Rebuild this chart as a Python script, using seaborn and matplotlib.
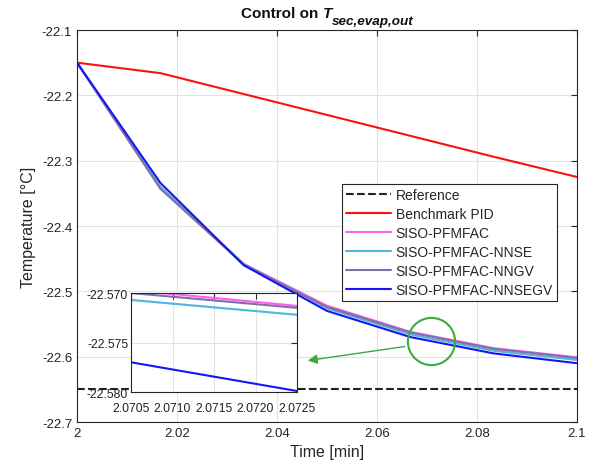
import pandas as pd
import matplotlib
matplotlib.use("Agg")
import matplotlib.pyplot as plt
import seaborn as sns
from matplotlib.ticker import FuncFormatter

sns.set_theme(style="whitegrid")
plt.rcParams['font.family'] = ['Liberation Sans', 'DejaVu Sans']
plt.rcParams['axes.unicode_minus'] = False

# data
time = [2.0, 2.01667, 2.03333, 2.05, 2.06667, 2.08333, 2.1]
reference = [-22.65] * len(time)
series_names = ['Benchmark PID', 'SISO-PFMFAC', 'SISO-PFMFAC-NNSE',
                'SISO-PFMFAC-NNGV', 'SISO-PFMFAC-NNSEGV']
pid = [-22.150, -22.166, -22.198, -22.230, -22.262, -22.294, -22.325]
pfmfac = [-22.150, -22.341, -22.458, -22.522, -22.562, -22.587, -22.601]
nnse = [-22.150, -22.340, -22.458, -22.526, -22.566, -22.591, -22.605]
nngv = [-22.150, -22.343, -22.459, -22.524, -22.563, -22.588, -22.602]
nnsegv = [-22.150, -22.334, -22.460, -22.530, -22.570, -22.595, -22.610]

# zoomed-in window
inset_time = [2.0705, 2.0725]
inset_pfmfac = [-22.5697, -22.5713]
inset_nnse = [-22.5707, -22.5722]
inset_nngv = [-22.5700, -22.5715]
inset_nnsegv = [-22.5770, -22.5799]

colors = {'Benchmark PID': '#FF1010', 'SISO-PFMFAC': '#FF5CF0',
          'SISO-PFMFAC-NNSE': '#4DB8DA', 'SISO-PFMFAC-NNGV': '#8070A8',
          'SISO-PFMFAC-NNSEGV': '#1515F5'}
main_vals = [pid, pfmfac, nnse, nngv, nnsegv]
inset_vals = [None, inset_pfmfac, inset_nnse, inset_nngv, inset_nnsegv]

edge = '#262626'
grid_c = '#E3E3E3'
green = '#3DAA3D'

W, H = 598, 477
fig = plt.figure(figsize=(W / 100, H / 100), dpi=100)
ax = fig.add_axes([0.1288, 0.1132, 0.8361, 0.8218])

sns.lineplot(x=time, y=reference, ax=ax, color='#222222', linestyle='--',
             linewidth=1.5, label='Reference')
for name, vals in zip(series_names, main_vals):
    sns.lineplot(x=time, y=vals, ax=ax, color=colors[name], linewidth=1.5,
                 label=name)

ax.set_xlim(2.0, 2.1)
ax.set_ylim(-22.7, -22.1)
ax.set_xticks([2.0, 2.02, 2.04, 2.06, 2.08, 2.1])
ax.set_yticks([-22.7, -22.6, -22.5, -22.4, -22.3, -22.2, -22.1])
ax.xaxis.set_major_formatter(FuncFormatter(lambda v, p: '%g' % round(v, 4)))
ax.yaxis.set_major_formatter(FuncFormatter(lambda v, p: '%.1f' % v))
ax.set_xlabel('Time [min]', fontsize=11.5, labelpad=4)
ax.set_ylabel('Temperature [°C]', fontsize=11.5, labelpad=4)

ax.set_facecolor('white')
ax.grid(True, color=grid_c, linewidth=0.8)
for s in ax.spines.values():
    s.set_color(edge)
    s.set_linewidth(0.8)
ax.tick_params(direction='in', length=4, width=0.8, colors=edge,
               labelsize=9.5, top=True, right=True, labelcolor='#222222')

# green highlight circle + arrow
ax.plot([2.0708], [-22.576], 'o', ms=34, mfc='none', mec=green, mew=1.5,
        zorder=5)
ax.annotate('', xy=(2.0456, -22.6066), xytext=(2.0661, -22.5838),
            arrowprops=dict(arrowstyle='-|>', color=green, lw=1,
                            mutation_scale=14), zorder=5)

leg = ax.legend(loc='upper right', bbox_to_anchor=(0.96, 0.607),
                borderaxespad=0, fontsize=10, frameon=True, fancybox=False,
                framealpha=1, edgecolor=edge, handlelength=3.2,
                handletextpad=0.35, labelspacing=0.35, borderpad=0.3)
leg.get_frame().set_linewidth(0.8)

# title: "Control on T_sec,evap,out" with a large MATLAB-style subscript
t1 = fig.text(0, 1 - 18 / H, 'Control on', fontsize=11, fontweight='bold',
              va='baseline', color='#111111')
t2 = fig.text(0, 1 - 18 / H, 'T', fontsize=11, fontweight='bold',
              fontstyle='italic', va='baseline', color='#111111')
t3 = fig.text(0, 1 - 25 / H, 'sec,evap,out', fontsize=9.7, fontweight='bold',
              fontstyle='italic', va='baseline', color='#111111')
r = fig.canvas.get_renderer()
w1 = t1.get_window_extent(r).width
w2 = t2.get_window_extent(r).width
w3 = t3.get_window_extent(r).width
gap1, gap2 = 5, -1
total = w1 + gap1 + w2 + gap2 + w3
x0 = 327 - total / 2
t1.set_x(x0 / W)
t2.set_x((x0 + w1 + gap1) / W)
t3.set_x((x0 + w1 + gap1 + w2 + gap2) / W)

# inset axes
axin = fig.add_axes([0.2191, 0.1761, 0.2776, 0.2075])
for name, vals in zip(series_names, inset_vals):
    if vals is None:
        continue
    sns.lineplot(x=inset_time, y=vals, ax=axin, color=colors[name],
                 linewidth=1.5, legend=False)
axin.set_xlim(2.0705, 2.0725)
axin.set_ylim(-22.580, -22.570)
axin.set_xticks([2.0705, 2.0710, 2.0715, 2.0720, 2.0725])
axin.set_yticks([-22.580, -22.575, -22.570])
axin.xaxis.set_major_formatter(FuncFormatter(lambda v, p: '%.4f' % v))
axin.yaxis.set_major_formatter(FuncFormatter(lambda v, p: '%.3f' % v))
axin.set_xlabel('')
axin.set_ylabel('')
axin.set_facecolor('white')
axin.grid(True, color=grid_c, linewidth=0.8)
for s in axin.spines.values():
    s.set_color(edge)
    s.set_linewidth(0.8)
axin.tick_params(direction='in', length=4, width=0.8, colors=edge,
                 labelsize=8.8, top=True, right=True, labelcolor='#222222')
axin.tick_params(axis='x', pad=7)
axin.tick_params(axis='y', pad=2)

fig.savefig('out.png', dpi=100)
